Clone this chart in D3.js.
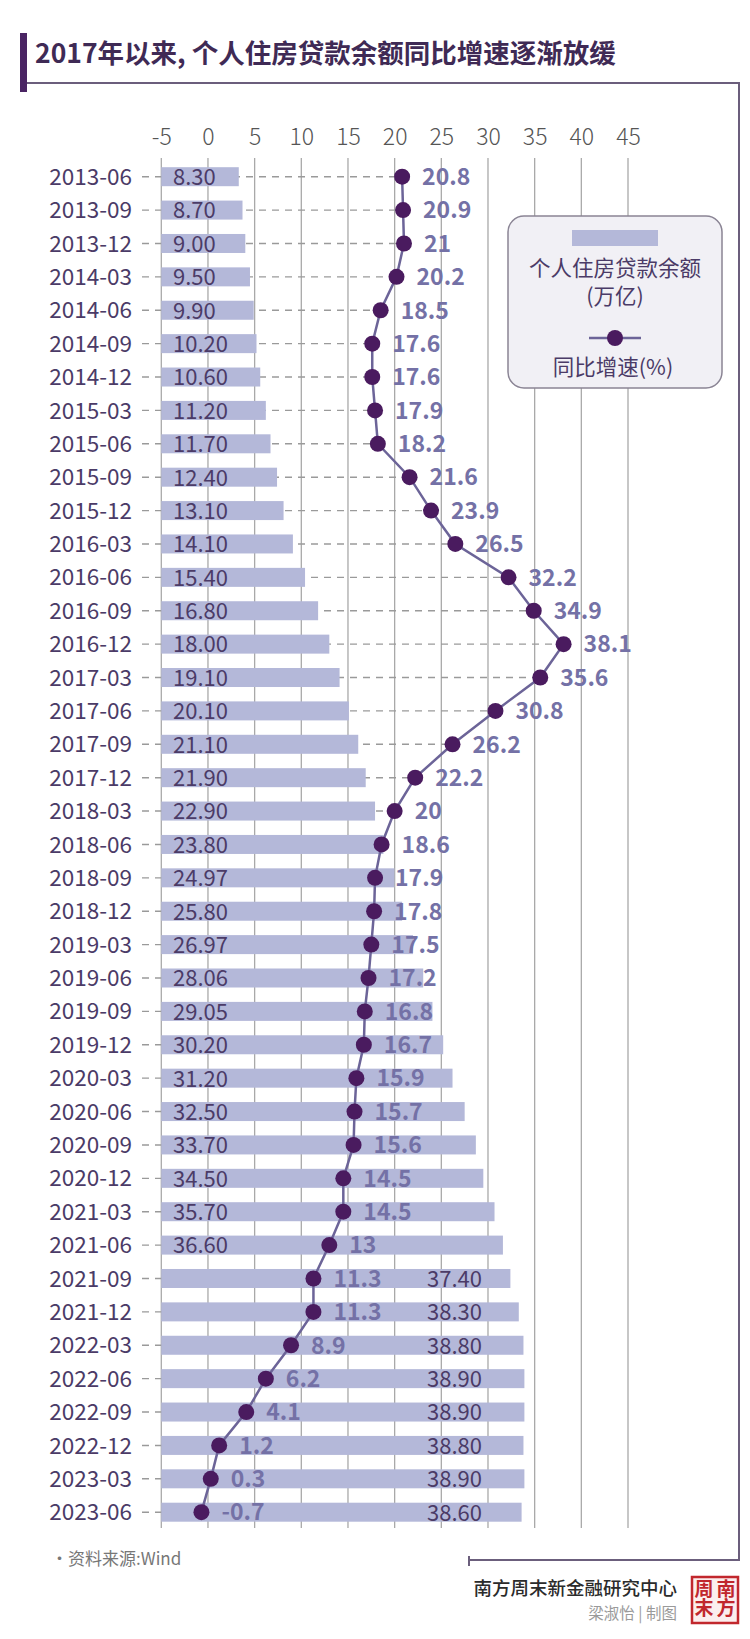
<!DOCTYPE html>
<html>
<head>
<meta charset="utf-8">
<script src="https://cdn.jsdelivr.net/npm/d3@7/dist/d3.min.js"></script>
<style>
  html, body { margin: 0; padding: 0; background: #fff; }
  svg { display: block; }
  text { font-family: "Noto Sans CJK SC", "Noto Sans", sans-serif; }
</style>
</head>
<body>
<svg id="chart" width="750" height="1639"></svg>
<script>
const categories = ["2013-06","2013-09","2013-12","2014-03","2014-06","2014-09","2014-12","2015-03","2015-06","2015-09","2015-12","2016-03","2016-06","2016-09","2016-12","2017-03","2017-06","2017-09","2017-12","2018-03","2018-06","2018-09","2018-12","2019-03","2019-06","2019-09","2019-12","2020-03","2020-06","2020-09","2020-12","2021-03","2021-06","2021-09","2021-12","2022-03","2022-06","2022-09","2022-12","2023-03","2023-06"];
const balance = [8.30,8.70,9.00,9.50,9.90,10.20,10.60,11.20,11.70,12.40,13.10,14.10,15.40,16.80,18.00,19.10,20.10,21.10,21.90,22.90,23.80,24.97,25.80,26.97,28.06,29.05,30.20,31.20,32.50,33.70,34.50,35.70,36.60,37.40,38.30,38.80,38.90,38.90,38.80,38.90,38.60];
const growth = [20.8,20.9,21,20.2,18.5,17.6,17.6,17.9,18.2,21.6,23.9,26.5,32.2,34.9,38.1,35.6,30.8,26.2,22.2,20,18.6,17.9,17.8,17.5,17.2,16.8,16.7,15.9,15.7,15.6,14.5,14.5,13,11.3,11.3,8.9,6.2,4.1,1.2,0.3,-0.7];
const tickValues = [-5,0,5,10,15,20,25,30,35,40,45];
const tickLabels = ["-5","0","5","10","15","20","25","30","35","40","45"];
const balanceLabels = ["8.30","8.70","9.00","9.50","9.90","10.20","10.60","11.20","11.70","12.40","13.10","14.10","15.40","16.80","18.00","19.10","20.10","21.10","21.90","22.90","23.80","24.97","25.80","26.97","28.06","29.05","30.20","31.20","32.50","33.70","34.50","35.70","36.60","37.40","38.30","38.80","38.90","38.90","38.80","38.90","38.60"];
const growthLabels = ["20.8","20.9","21","20.2","18.5","17.6","17.6","17.9","18.2","21.6","23.9","26.5","32.2","34.9","38.1","35.6","30.8","26.2","22.2","20","18.6","17.9","17.8","17.5","17.2","16.8","16.7","15.9","15.7","15.6","14.5","14.5","13","11.3","11.3","8.9","6.2","4.1","1.2","0.3","-0.7"];
const title = "2017年以来, 个人住房贷款余额同比增速逐渐放缓";
const legendBarText = ["个人住房贷款余额", "(万亿)"];
const legendLineText = "同比增速(%)";
const sourceText = "•资料来源:Wind";
const orgText = "南方周末新金融研究中心";
const authorText = "梁淑怡 | 制图";
const sealColumns = ["南方", "周末"];

const rows = categories.map((c, i) => ({cat: c, bal: balance[i], g: growth[i], bl: balanceLabels[i], gl: growthLabels[i]}));

const svg = d3.select("#chart");
const C = {
  dark: "#4b3b67", title: "#3f2a55", bar: "#b4b8d9", dot: "#4a1b5f",
  line: "#6c6498", vlabel: "#7471a6", grid: "#a9a9a9", dash: "#9a9a9a", frame: "#6b5e7c"
};

const x = d3.scaleLinear().domain([-5, 45]).range([161.3, 628]);
const xBar = d3.scaleLinear().domain([0, 50]).range([x(-5), x(45)]);
const y = d3.scalePoint().domain(categories).range([176.7, 1512.2]);
const barH = 19;

// Title
svg.append("rect").attr("x", 20).attr("y", 33).attr("width", 7).attr("height", 59).attr("fill", "#4a2463");
svg.append("text").attr("x", 35).attr("y", 63).attr("font-size", 26.5).attr("font-weight", 700)
  .attr("fill", C.title).text(title);
// Frame
svg.append("path").attr("d", "M27,83H739V1560H469").attr("fill", "none").attr("stroke", C.frame).attr("stroke-width", 2);
svg.append("line").attr("x1", 469).attr("x2", 469).attr("y1", 1556).attr("y2", 1566).attr("stroke", C.frame).attr("stroke-width", 2);

// Gridlines
svg.append("g").selectAll("line").data(tickValues).join("line")
  .attr("x1", d => x(d)).attr("x2", d => x(d)).attr("y1", 158).attr("y2", 1528)
  .attr("stroke", C.grid).attr("stroke-width", 1.3);

// Top axis
const axis = d3.axisTop(x).tickValues(tickValues).tickSize(0).tickPadding(3)
  .tickFormat((d, i) => tickLabels[i]);
const ag = svg.append("g").attr("transform", "translate(0,148)").call(axis);
ag.select(".domain").remove();
ag.selectAll("text").attr("font-size", 23).attr("font-weight", 300).attr("fill", "#555")
  .attr("font-family", "\"Noto Sans CJK SC\", sans-serif");

// Dashed leader lines
svg.append("g").selectAll("line").data(rows).join("line")
  .attr("x1", 142).attr("x2", d => x(d.g)).attr("y1", d => y(d.cat)).attr("y2", d => y(d.cat))
  .attr("stroke", C.dash).attr("stroke-width", 1.4).attr("stroke-dasharray", "7,6");

// Bars
svg.append("g").selectAll("rect").data(rows).join("rect")
  .attr("x", xBar(0)).attr("y", d => y(d.cat) - barH / 2)
  .attr("width", d => xBar(d.bal) - xBar(0)).attr("height", barH)
  .attr("fill", C.bar);

// Row labels
svg.append("g").selectAll("text").data(rows).join("text")
  .attr("x", 132).attr("y", d => y(d.cat)).attr("dy", "0.36em")
  .attr("text-anchor", "end").attr("font-size", 22.5).attr("fill", C.dark).text(d => d.cat);

// Bar labels
svg.append("g").selectAll("text").data(rows).join("text")
  .attr("x", d => d.g < 12 ? 482 : 173).attr("y", d => y(d.cat)).attr("dy", "0.38em")
  .attr("text-anchor", d => d.g < 12 ? "end" : "start")
  .attr("font-size", 22).attr("fill", C.dark).text(d => d.bl);

// Line
svg.append("path").datum(rows)
  .attr("d", d3.line().x(d => x(d.g)).y(d => y(d.cat)))
  .attr("fill", "none").attr("stroke", C.line).attr("stroke-width", 2.5);

// Dots
svg.append("g").selectAll("circle").data(rows).join("circle")
  .attr("cx", d => x(d.g)).attr("cy", d => y(d.cat)).attr("r", 8).attr("fill", C.dot);

// Growth labels
svg.append("g").selectAll("text").data(rows).join("text")
  .attr("x", d => x(d.g) + 20).attr("y", d => y(d.cat)).attr("dy", "0.36em")
  .attr("font-size", 23).attr("font-weight", 700).attr("fill", C.vlabel).text(d => d.gl);

// Legend
const lg = svg.append("g");
lg.append("rect").attr("x", 508).attr("y", 216).attr("width", 214).attr("height", 172)
  .attr("rx", 16).attr("fill", "#f1f0f5").attr("stroke", "#8a8494").attr("stroke-width", 1.5);
lg.append("rect").attr("x", 572).attr("y", 230).attr("width", 86).attr("height", 16).attr("fill", C.bar);
lg.selectAll("text.lb").data(legendBarText).join("text").attr("class", "lb")
  .attr("x", 615).attr("y", (d, i) => 268 + i * 28).attr("dy", "0.36em")
  .attr("text-anchor", "middle").attr("font-size", 21.5).attr("fill", C.dark).text(d => d);
lg.append("line").attr("x1", 589).attr("x2", 641).attr("y1", 338).attr("y2", 338)
  .attr("stroke", C.line).attr("stroke-width", 2.5);
lg.append("circle").attr("cx", 615).attr("cy", 338).attr("r", 8).attr("fill", C.dot);
lg.append("text").attr("x", 613).attr("y", 367).attr("dy", "0.36em").attr("text-anchor", "middle")
  .attr("font-size", 21.5).attr("fill", C.dark).text(legendLineText);

// Footer
svg.append("text").attr("x", 51).attr("y", 1559).attr("dy", "0.36em").attr("font-size", 17)
  .attr("fill", "#777").text(sourceText);
svg.append("text").attr("x", 677).attr("y", 1588).attr("dy", "0.36em").attr("text-anchor", "end")
  .attr("font-size", 18.5).attr("font-weight", 500).attr("fill", "#2b2b2b").text(orgText);
svg.append("text").attr("x", 677).attr("y", 1613).attr("dy", "0.36em").attr("text-anchor", "end")
  .attr("font-size", 15.5).attr("fill", "#9a9a9a").text(authorText);

// Seal logo (two vertical columns, read right column first)
const seal = svg.append("g");
seal.append("rect").attr("x", 692).attr("y", 1577).attr("width", 46).attr("height", 46)
  .attr("fill", "#fbeeee").attr("stroke", "#c1272d").attr("stroke-width", 2.5);
sealColumns.forEach((t, i) => {
  seal.append("text").attr("x", 726 - i * 22).attr("y", 1579)
    .attr("writing-mode", "vertical-rl").style("writing-mode", "vertical-rl")
    .attr("font-size", 19).attr("font-weight", 700).attr("fill", "#c1272d").text(t);
});
</script>
</body>
</html>
